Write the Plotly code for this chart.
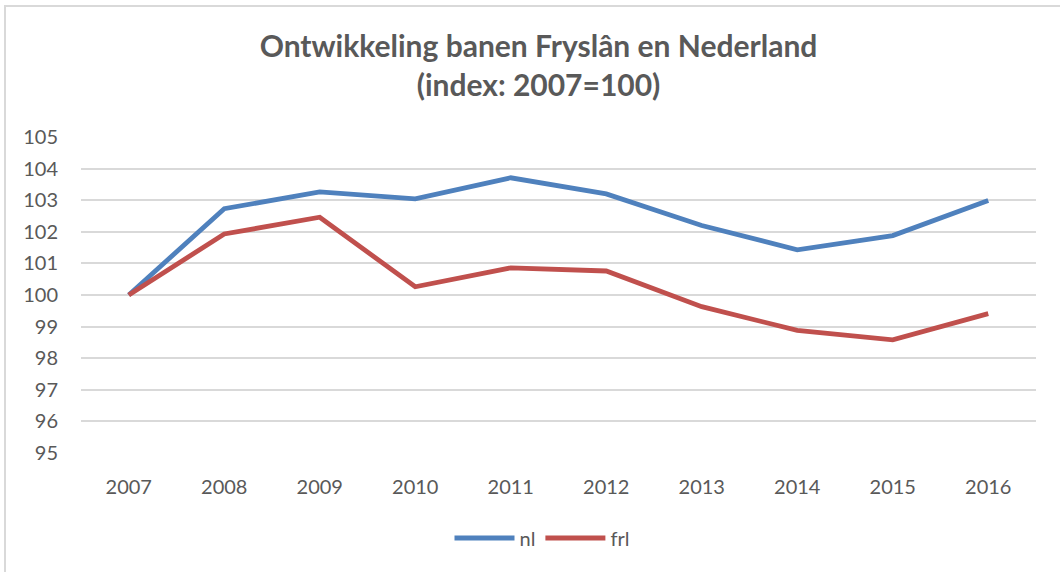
import plotly.graph_objects as go

years = ["2007", "2008", "2009", "2010", "2011", "2012", "2013", "2014", "2015", "2016"]
nl = [100.0, 102.73, 103.26, 103.04, 103.71, 103.2, 102.2, 101.43, 101.88, 102.99]
frl = [100.0, 101.93, 102.46, 100.26, 100.86, 100.76, 99.63, 98.88, 98.58, 99.41]
y_ticks = list(range(95, 106))

W, H = 1060, 572
ml, mr, mt, mb = 81, 24, 137, 119
pw, ph = W - ml - mr, H - mt - mb

FONT = "Lato, 'Open Sans', sans-serif"
GREY = "#595959"

fig = go.Figure()
fig.add_trace(go.Scatter(x=years, y=nl, name="nl", mode="lines",
                         line=dict(color="#4F81BD", width=4.8)))
fig.add_trace(go.Scatter(x=years, y=frl, name="frl", mode="lines",
                         line=dict(color="#C0504D", width=4.8)))

def px_x(p):
    return (p - ml) / pw

def px_y(p):
    return 1 - (p - mt) / ph

# chart-area border (left and top edges visible)
fig.add_shape(type="rect", xref="paper", yref="paper",
              x0=px_x(5), x1=px_x(1070), y0=px_y(585), y1=px_y(6),
              line=dict(color="#D9D9D9", width=2), layer="below")

fig.update_layout(
    width=W, height=H,
    margin=dict(l=ml, r=mr, t=mt, b=mb, autoexpand=False),
    paper_bgcolor="white", plot_bgcolor="white",
    title=dict(text="<b>Ontwikkeling banen Fryslân en Nederland<br>(index: 2007=100)</b>",
               x=px_x(538.5), xanchor="center", xref="paper", y=1 - 57 / H, yanchor="top",
               font=dict(family=FONT, size=30, color=GREY)),
    font=dict(family=FONT, size=20, color=GREY),
    xaxis=dict(type="category", range=[-0.5, 9.5], showgrid=False, zeroline=False,
               showline=False, ticks="", tickfont=dict(size=20, color=GREY),
               ticklabelstandoff=20),
    yaxis=dict(range=[95, 105], tickvals=y_ticks, showgrid=True, gridcolor="#D9D9D9",
               gridwidth=1.5, zeroline=False, showline=False, ticks="",
               tickfont=dict(size=20, color=GREY), ticklabelstandoff=22),
    legend=dict(orientation="h", x=px_x(542), xanchor="center", y=px_y(538), yanchor="middle",
                font=dict(size=20, color=GREY), itemwidth=60, tracegroupgap=0),
    showlegend=True,
)

fig.write_html("out.html", config={"displayModeBar": False},
               post_script="document.body.style.margin='0';document.body.style.padding='0';")
